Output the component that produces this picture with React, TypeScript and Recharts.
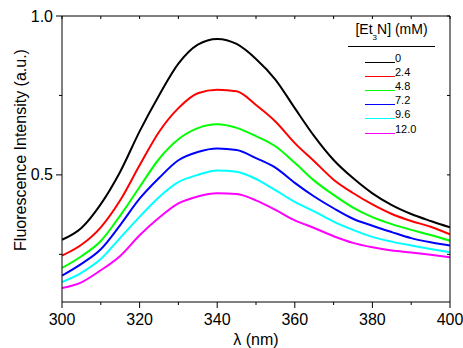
import { Line, LineChart, XAxis, YAxis } from "recharts";

const wavelengths = [300, 305, 310, 315, 320, 325, 330, 335, 340, 345, 350, 355, 360, 365, 370, 375, 380, 385, 390, 395, 400];

const conc0 = [0.296, 0.333, 0.408, 0.51, 0.637, 0.75, 0.85, 0.91, 0.928, 0.912, 0.865, 0.8, 0.71, 0.622, 0.547, 0.49, 0.442, 0.405, 0.377, 0.355, 0.335];
const conc24 = [0.246, 0.28, 0.335, 0.42, 0.53, 0.635, 0.71, 0.757, 0.768, 0.763, 0.72, 0.668, 0.6, 0.543, 0.485, 0.443, 0.407, 0.377, 0.355, 0.337, 0.313];
const conc48 = [0.207, 0.244, 0.292, 0.372, 0.462, 0.55, 0.612, 0.647, 0.659, 0.648, 0.622, 0.59, 0.538, 0.482, 0.437, 0.397, 0.367, 0.345, 0.327, 0.311, 0.293];
const conc72 = [0.183, 0.22, 0.266, 0.342, 0.425, 0.49, 0.546, 0.572, 0.583, 0.578, 0.553, 0.523, 0.475, 0.432, 0.395, 0.362, 0.34, 0.32, 0.301, 0.288, 0.278];
const conc96 = [0.163, 0.192, 0.235, 0.302, 0.368, 0.43, 0.477, 0.5, 0.514, 0.51, 0.487, 0.452, 0.415, 0.385, 0.353, 0.327, 0.305, 0.29, 0.278, 0.267, 0.257];
const conc120 = [0.144, 0.162, 0.2, 0.245, 0.31, 0.365, 0.41, 0.432, 0.442, 0.44, 0.42, 0.39, 0.357, 0.333, 0.307, 0.286, 0.272, 0.262, 0.256, 0.249, 0.241];

const seriesKeys = ["c0", "c24", "c48", "c72", "c96", "c120"];
const seriesLabels = ["0", "2.4", "4.8", "7.2", "9.6", "12.0"];
const seriesColors = ["#000000", "#ff0000", "#00ff00", "#0000ff", "#00ffff", "#ff00ff"];
const seriesValues = [conc0, conc24, conc48, conc72, conc96, conc120];

const xTicks = [300, 310, 320, 330, 340, 350, 360, 370, 380, 390, 400];
const yTicks = [0.25, 0.5, 0.75, 1.0];

const data = wavelengths.map((w, i) => {
  const row: Record<string, number> = { wl: w };
  seriesKeys.forEach((k, j) => (row[k] = seriesValues[j][i]));
  return row;
});

const font = "'Liberation Sans', Arial, sans-serif";

function BottomTick(props: any) {
  const { x, y, payload } = props;
  const major = payload.value % 20 === 0;
  return (
    <g>
      <line x1={x} x2={x} y1={y} y2={y + (major ? 6 : 3)} stroke="#000" />
      {major && (
        <text x={x} y={y + 23} textAnchor="middle" fontSize={16} fontFamily={font} fill="#000">
          {payload.value}
        </text>
      )}
    </g>
  );
}

function LeftTick(props: any) {
  const { x, y, payload } = props;
  const major = Math.abs((payload.value * 2) % 1) < 1e-6;
  return (
    <g>
      <line x1={x - (major ? 6 : 3)} x2={x} y1={y} y2={y} stroke="#000" />
      {major && (
        <text x={x - 9} y={y + 5.5} textAnchor="end" fontSize={16} fontFamily={font} fill="#000">
          {payload.value.toFixed(1)}
        </text>
      )}
    </g>
  );
}

function TopTick(props: any) {
  const { x, y } = props;
  return <line x1={x} x2={x} y1={y} y2={y + 3} stroke="#000" />;
}

function RightTick(props: any) {
  const { x, y } = props;
  return <line x1={x - 3} x2={x} y1={y} y2={y} stroke="#000" />;
}

function ConcLegend() {
  return (
    <div style={{ position: "absolute", left: 348, top: 21, width: 87, fontFamily: font, color: "#000" }}>
      <div style={{ fontSize: 14, lineHeight: "16px", textAlign: "center", borderBottom: "1px solid #000", paddingBottom: 6 }}>
        [Et<span style={{ fontSize: 8, position: "relative", top: 6 }}>3</span>N] (mM)
      </div>
      <div style={{ marginTop: 2 }}>
        {seriesLabels.map((lab, i) => (
          <div key={lab} style={{ display: "flex", alignItems: "flex-end", height: 14.1 }}>
            <span style={{ marginLeft: 17, width: 30, borderBottom: `1.5px solid ${seriesColors[i]}` }} />
            <span style={{ fontSize: 11, lineHeight: "11px", marginBottom: -1 }}>{lab}</span>
          </div>
        ))}
      </div>
    </div>
  );
}

export default function App() {
  return (
    <div style={{ position: "fixed", left: 0, top: 0, width: 463, height: 348, background: "#fff" }}>
      <LineChart width={463} height={348} data={data} margin={{ top: 15, right: 12, bottom: 45, left: 61 }}>
        <XAxis
          dataKey="wl"
          type="number"
          domain={[300, 400]}
          ticks={xTicks}
          height={1}
          tickSize={0}
          tickMargin={0}
          tickLine={false}
          tick={<BottomTick />}
          axisLine={{ stroke: "#000" }}
          allowDataOverflow
          label={{
            content: ({ viewBox }: any) => (
              <text x={viewBox.x + viewBox.width / 2} y={345} textAnchor="middle" fontSize={16} fontFamily={font} fill="#000">
                λ (nm)
              </text>
            ),
          }}
        />
        <XAxis
          xAxisId="top"
          orientation="top"
          dataKey="wl"
          type="number"
          domain={[300, 400]}
          ticks={xTicks}
          height={1}
          tickSize={0}
          tickMargin={0}
          tickLine={false}
          tick={<TopTick />}
          axisLine={{ stroke: "#000" }}
          allowDataOverflow
        />
        <YAxis
          type="number"
          domain={[0.1, 1.0]}
          ticks={yTicks}
          width={1}
          tickSize={0}
          tickMargin={0}
          tickLine={false}
          tick={<LeftTick />}
          axisLine={{ stroke: "#000" }}
          allowDataOverflow
          label={{
            content: () => {
              const cx = 20;
              const cy = 150;
              return (
                <text x={cx} y={cy} transform={`rotate(-90 ${cx} ${cy})`} textAnchor="middle" dominantBaseline="central" fontSize={16} fontFamily={font} fill="#000">
                  Fluorescence Intensity (a.u.)
                </text>
              );
            },
          }}
        />
        <YAxis
          yAxisId="right"
          orientation="right"
          type="number"
          domain={[0.1, 1.0]}
          ticks={yTicks}
          width={1}
          tickSize={0}
          tickMargin={0}
          tickLine={false}
          tick={<RightTick />}
          axisLine={{ stroke: "#000" }}
          allowDataOverflow
        />
        {seriesKeys.map((k, i) => (
          <Line
            key={k}
            dataKey={k}
            name={seriesLabels[i]}
            type="monotone"
            stroke={seriesColors[i]}
            strokeWidth={2}
            dot={false}
            activeDot={false}
            isAnimationActive={false}
          />
        ))}
      </LineChart>
      <ConcLegend />
    </div>
  );
}
